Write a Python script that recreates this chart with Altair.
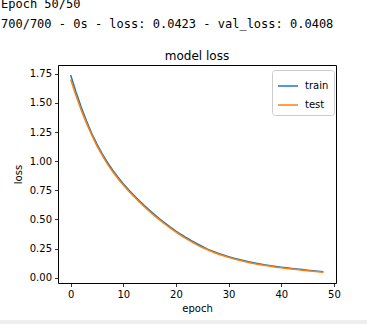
import altair as alt
import pandas as pd

epochs = list(range(49))
train_loss = [1.74, 1.595, 1.464, 1.346, 1.239, 1.146, 1.063, 0.989, 0.923, 0.863,
              0.806, 0.755, 0.707, 0.662, 0.619, 0.578, 0.539, 0.502, 0.467, 0.433,
              0.401, 0.371, 0.343, 0.317, 0.292, 0.269, 0.246, 0.227, 0.21, 0.195,
              0.181, 0.168, 0.156, 0.145, 0.135, 0.126, 0.118, 0.11, 0.103, 0.097,
              0.091, 0.085, 0.08, 0.075, 0.07, 0.065, 0.06, 0.055, 0.051]
test_loss = [1.70, 1.565, 1.44, 1.326, 1.225, 1.132, 1.049, 0.975, 0.909, 0.849,
             0.796, 0.745, 0.697, 0.652, 0.609, 0.568, 0.529, 0.492, 0.457, 0.423,
             0.391, 0.361, 0.333, 0.307, 0.282, 0.259, 0.24, 0.221, 0.204, 0.189,
             0.175, 0.162, 0.15, 0.139, 0.129, 0.12, 0.112, 0.105, 0.098, 0.091,
             0.085, 0.08, 0.075, 0.07, 0.065, 0.0605, 0.0565, 0.052, 0.048]
series_names = ["train", "test"]
series_colors = ["#1f77b4", "#ff7f0e"]
console_lines = ["Epoch 50/50", "700/700 - 0s - loss: 0.0423 - val_loss: 0.0408"]
chart_title = "model loss"

rows = []
for e, v in zip(epochs, train_loss):
    rows.append({"epoch": e, "loss": v, "series": "train"})
for e, v in zip(epochs, test_loss):
    rows.append({"epoch": e, "loss": v, "series": "test"})
df = pd.DataFrame(rows)

FONT = "DejaVu Sans"

lines = alt.Chart(df).mark_line(strokeWidth=1.5, clip=True).encode(
    x=alt.X("epoch:Q", scale=alt.Scale(domain=[-2.4, 50.4], nice=False, zero=False),
            axis=alt.Axis(values=[0, 10, 20, 30, 40, 50], title="epoch")),
    y=alt.Y("loss:Q", scale=alt.Scale(domain=[-0.045, 1.825], nice=False, zero=False),
            axis=alt.Axis(values=[0, 0.25, 0.5, 0.75, 1.0, 1.25, 1.5, 1.75], format=".2f", title="loss")),
    color=alt.Color("series:N", scale=alt.Scale(domain=series_names, range=series_colors),
                    legend=alt.Legend(title=None, orient="none", legendX=214, legendY=5,
                                      symbolType="stroke", symbolSize=400, symbolStrokeWidth=1.5,
                                      labelFontSize=10, labelFont=FONT, labelColor="#000000",
                                      strokeColor="#cccccc", fillColor="white", padding=5,
                                      cornerRadius=3, rowPadding=3, labelOffset=6)),
)

def text_layer(txt, x, y, font, size, align):
    return alt.Chart(pd.DataFrame({"t": [txt]})).mark_text(
        align=align, baseline="alphabetic", font=font, fontSize=size, color="#000000"
    ).encode(text="t:N", x=alt.value(x), y=alt.value(y))

console1 = text_layer(console_lines[0], -57, -57, "DejaVu Sans Mono", 12, "left")
console2 = text_layer(console_lines[1], -57, -37, "DejaVu Sans Mono", 12, "left")
title = text_layer(chart_title, 139, -5, FONT, 12, "center")

bottom_band = alt.Chart(pd.DataFrame({"k": [0]})).mark_rule(
    color="#eeeeee", strokeWidth=4, clip=False
).encode(x=alt.value(-58), x2=alt.value(309), y=alt.value(257))

chart = alt.layer(bottom_band, lines, console1, console2, title).properties(
    width=278, height=218,
    background="white",
    autosize=alt.AutoSizeParams(type="none"),
    padding={"left": 58, "top": 65, "right": 31, "bottom": 41},
).configure(
    view=alt.ViewConfig(stroke="#000000", strokeWidth=1),
    axis=alt.AxisConfig(
        grid=False, domain=False, tickColor="#000000", tickSize=3.5, tickWidth=0.8,
        labelFont=FONT, labelFontSize=10, labelColor="#000000", labelPadding=3,
        titleFont=FONT, titleFontSize=10, titleFontWeight="normal", titleColor="#000000",
    ),
    axisY=alt.AxisConfig(titlePadding=6),
    axisX=alt.AxisConfig(titlePadding=4),
)

chart.save("out.html", embed_options={"renderer": "svg", "actions": False})
